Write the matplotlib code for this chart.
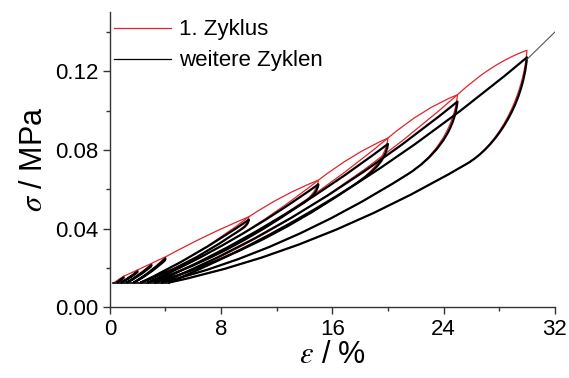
import matplotlib

matplotlib.use("Agg")
import matplotlib.pyplot as plt
from matplotlib.lines import Line2D
from matplotlib.patches import PathPatch
from matplotlib.path import Path
from matplotlib.ticker import MultipleLocator, FormatStrFormatter

plt.rcParams["font.family"] = ["Liberation Sans", "DejaVu Sans"]
plt.rcParams["mathtext.fontset"] = "stix"

# hysteresis loops, values (strain in %, stress in MPa)
EPS_MAX = [1, 2, 3, 4, 10, 15, 20, 25, 30]
SIG_PEAK_FIRST = [0.0158, 0.0190, 0.0223, 0.0256, 0.0460, 0.0646, 0.0860, 0.1080, 0.1306]
SIG_PEAK_NEXT = [0.0152, 0.0183, 0.0215, 0.0248, 0.0445, 0.0625, 0.0830, 0.1045, 0.1270]
EPS_RES = [0.5, 0.8, 1.2, 1.7, 2.2, 2.7, 3.2, 3.7, 4.2]
SIG_RELOAD_MID = [0.0140, 0.0152, 0.0166, 0.0180, 0.0270, 0.0345, 0.0430, 0.0510, 0.0600]
SIG_KNEE = [0.0145, 0.0169, 0.0193, 0.0217, 0.0362, 0.0485, 0.0604, 0.0677, 0.0730]
SIG_UNLOAD_MID = [0.0134, 0.0144, 0.0154, 0.0165, 0.0225, 0.0273, 0.0317, 0.0340, 0.0356]
SIG_ENV_MID = [0.0142, 0.0174, 0.0207, 0.0240, 0.0365, 0.0565, 0.0768, 0.0990, 0.1218]
SIG_MIN = 0.0125
EPS_START = 0.3
BASE_EPS = [0.2, 4.2]
TAIL_EPS = [30.0, 32.1]
TAIL_SIG = [0.126, 0.1405]

RED = "#e3232c"


def reload_seg(er, em, sp, smid):
    # quadratic bezier from (er, min) to (em, sp) passing smid at mid strain
    xc = 0.5 * (er + em)
    yc = 2 * smid - 0.5 * (SIG_MIN + sp)
    return [(xc, yc), (em, sp)], [Path.CURVE3, Path.CURVE3]


def unload_seg(em, sp, er, ky, smid):
    # hooked drop from the peak to a knee, then a gentle curve down to the residual strain
    span = em - er
    kx = em - 0.167 * span
    xc = 0.5 * (er + kx)
    yc = 2 * smid - 0.5 * (SIG_MIN + ky)
    slope = (ky - yc) / (kx - xc)
    p1 = (em - 0.0116 * span, sp - 0.46 * (sp - ky))
    p2 = (kx + 0.0775 * span, ky + slope * 0.0775 * span)
    verts = [p1, p2, (kx, ky), (xc, yc), (er, SIG_MIN)]
    codes = [Path.CURVE4] * 3 + [Path.CURVE3] * 2
    return verts, codes


fig = plt.figure(figsize=(5.69, 3.78), dpi=100)
ax = fig.add_axes([0.193, 0.187, 0.782, 0.781])

# first cycle of every step (red)
for k in range(len(EPS_MAX)):
    em, sp, er = EPS_MAX[k], SIG_PEAK_FIRST[k], EPS_RES[k]
    if k == 0:
        verts, codes = [(EPS_START, SIG_MIN)], [Path.MOVETO]
        x0, y0 = EPS_START, SIG_MIN
    else:
        v, c = reload_seg(EPS_RES[k - 1], EPS_MAX[k - 1], SIG_PEAK_FIRST[k - 1], SIG_RELOAD_MID[k - 1])
        verts, codes = [(EPS_RES[k - 1], SIG_MIN)] + v, [Path.MOVETO] + c
        x0, y0 = EPS_MAX[k - 1], SIG_PEAK_FIRST[k - 1]
    xc = 0.5 * (x0 + em)
    yc = 2 * SIG_ENV_MID[k] - 0.5 * (y0 + sp)
    verts += [(xc, yc), (em, sp)]
    codes += [Path.CURVE3, Path.CURVE3]
    v, c = unload_seg(em, sp, er, SIG_KNEE[k], SIG_UNLOAD_MID[k])
    verts += v
    codes += c
    ax.add_patch(PathPatch(Path(verts, codes), fill=False, edgecolor=RED,
                           linewidth=0.9, joinstyle="round", zorder=2))

# further cycles (black)
for k in range(len(EPS_MAX)):
    em, sp, er = EPS_MAX[k], SIG_PEAK_NEXT[k], EPS_RES[k]
    verts, codes = [(er, SIG_MIN)], [Path.MOVETO]
    v, c = reload_seg(er, em, sp, SIG_RELOAD_MID[k])
    verts += v
    codes += c
    v, c = unload_seg(em, sp, er, SIG_KNEE[k], SIG_UNLOAD_MID[k])
    verts += v
    codes += c
    ax.add_patch(PathPatch(Path(verts, codes), fill=False, edgecolor="black",
                           linewidth=1.6, joinstyle="round", zorder=3))

ax.plot(BASE_EPS, [SIG_MIN, SIG_MIN], color="black", lw=1.2, zorder=3)
ax.plot(TAIL_EPS, TAIL_SIG, color="#555555", lw=0.8, zorder=3)

ax.set_xlim(0, 32)
ax.set_ylim(0, 0.15)
ax.xaxis.set_major_locator(MultipleLocator(8))
ax.xaxis.set_minor_locator(MultipleLocator(4))
ax.yaxis.set_major_locator(MultipleLocator(0.04))
ax.yaxis.set_minor_locator(MultipleLocator(0.02))
ax.yaxis.set_major_formatter(FormatStrFormatter("%.2f"))
for s in ("top", "right"):
    ax.spines[s].set_visible(False)
for s in ("left", "bottom"):
    ax.spines[s].set_linewidth(1.0)
    ax.spines[s].set_color("#333333")
ax.tick_params(which="major", length=5, width=1.0, labelsize=16, colors="#333333", labelcolor="black")
ax.tick_params(which="minor", length=3, width=1.0, colors="#333333")
ax.set_xlabel(r"$\varepsilon$ / %", fontsize=22, labelpad=0)
ax.set_ylabel(r"$\sigma$ / MPa", fontsize=22, labelpad=4)

handles = [Line2D([], [], color=RED, lw=0.9), Line2D([], [], color="black", lw=0.9)]
ax.legend(handles, ["1. Zyklus", "weitere Zyklen"], loc="upper left", bbox_to_anchor=(0.0, 0.99),
          frameon=False, fontsize=16, handlelength=2.55, handletextpad=0.35,
          labelspacing=0.45, borderaxespad=0, borderpad=0.2)

fig.savefig("out.png", dpi=100)
